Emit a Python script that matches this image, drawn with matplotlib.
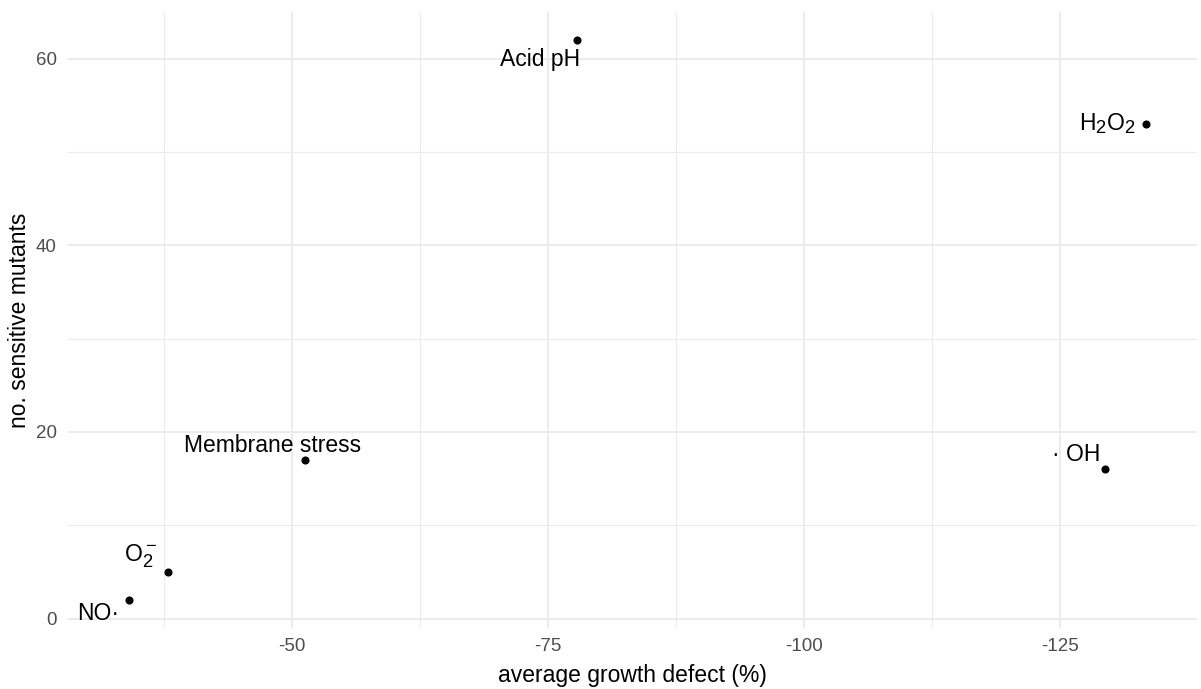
import matplotlib
matplotlib.use("Agg")
import matplotlib.pyplot as plt
import matplotlib._mathtext as mathtext_internal

# Stress conditions: average growth defect vs. number of sensitive mutants
stressors = ["NO·", r"O$_2^-$", "Membrane stress", "Acid pH", r"H$_2$O$_2$", "· OH"]
growth_defect = [-34.1, -37.9, -51.3, -77.8, -133.4, -129.4]
sensitive_mutants = [2, 5, 17, 62, 53, 16]

x_ticks = [-50, -75, -100, -125]
y_ticks = [0, 20, 40, 60]

# slightly larger sub/superscripts than the mathtext default
mathtext_internal.SHRINK_FACTOR = 0.8

plt.rcParams["font.family"] = ["Liberation Sans", "DejaVu Sans"]
plt.rcParams["axes.unicode_minus"] = False
plt.rcParams["mathtext.fontset"] = "custom"
plt.rcParams["mathtext.rm"] = "Liberation Sans"
plt.rcParams["mathtext.it"] = "Liberation Sans:italic"
plt.rcParams["mathtext.bf"] = "Liberation Sans:bold"

W, H = 1201, 689
fig = plt.figure(figsize=(W / 100, H / 100), dpi=100)
fig.patch.set_facecolor("white")

left, right, top, bottom = 68, 1197, 12, 628
ax = fig.add_axes([left / W, (H - bottom) / H, (right - left) / W, (bottom - top) / H])
ax.set_facecolor("white")

ax.set_xlim(-28.1, -138.4)
ax.set_ylim(-1.0, 65.0)

ax.set_xticks(x_ticks)
ax.set_yticks(y_ticks)
ax.set_xticks([-37.5, -62.5, -87.5, -112.5], minor=True)
ax.set_yticks([10, 30, 50], minor=True)

grid_col = "#ebebeb"
ax.grid(which="major", color=grid_col, linewidth=1.4)
ax.grid(which="minor", color=grid_col, linewidth=0.8)
ax.set_axisbelow(True)
for s in ax.spines.values():
    s.set_visible(False)

ax.tick_params(which="both", length=0)
ax.tick_params(axis="x", pad=7, labelsize=13.5, labelcolor="#4d4d4d")
ax.tick_params(axis="y", pad=8, labelsize=13.5, labelcolor="#4d4d4d")

ax.scatter(growth_defect, sensitive_mutants, s=34, color="black", zorder=3, linewidths=0)

label_offsets = {
    "NO·": (-31, -20),
    r"O$_2^-$": (-28, 10),
    "Membrane stress": (-33, 8),
    "Acid pH": (-37, -26),
    r"H$_2$O$_2$": (-38, -6),
    "· OH": (-29, 8),
}
for name, gx, ny in zip(stressors, growth_defect, sensitive_mutants):
    ax.annotate(name, xy=(gx, ny), xytext=label_offsets[name], textcoords="offset pixels",
                ha="center", va="baseline", fontsize=16.5, color="black")

fig.text((left + right) / 2 / W, 1 - 682 / H, "average growth defect (%)",
         ha="center", va="baseline", fontsize=16.5, color="black")
fig.text(20 / W, 1 - ((top + bottom) / 2) / H, "no. sensitive mutants",
         ha="center", va="center", rotation=90, fontsize=16.5, color="black")

fig.savefig("out.png", dpi=100, facecolor="white")
